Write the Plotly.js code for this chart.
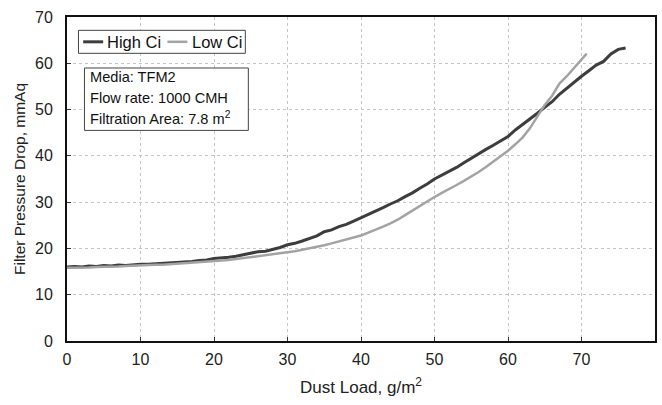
<!DOCTYPE html>
<html>
<head>
<meta charset="utf-8">
<script src="https://cdn.plot.ly/plotly-3.0.1.min.js"></script>
<style>html,body{margin:0;padding:0;background:#fff;}#chart{width:662px;height:405px;}</style>
</head>
<body>
<div id="chart"></div>
<script>
// Dust load (g/m2) and pressure drop (mmAq)
const highX = [0,1,2,3,4,5,6,7,8,9,10,11,12,13,14,15,16,17,18,19,20,21,22,23,24,25,26,27,28,29,30,31,32,33,34,35,36,37,38,39,40,41,42,43,44,45,46,47,48,49,50,51,52,53,54,55,56,57,58,59,60,61,62,63,64,65,66,67,68,69,70,71,72,73,74,75,76];
const highY = [16.0,16.1,16.0,16.2,16.1,16.3,16.2,16.4,16.3,16.5,16.6,16.6,16.7,16.8,16.8,17.0,17.1,17.2,17.4,17.5,17.8,17.9,18.1,18.3,18.6,19.0,19.3,19.4,19.8,20.2,20.8,21.1,21.6,22.1,22.7,23.6,24.0,24.7,25.2,25.9,26.6,27.3,28.0,28.8,29.6,30.3,31.2,32.0,33.0,33.9,35.0,35.8,36.7,37.5,38.5,39.5,40.4,41.4,42.3,43.3,44.2,45.6,46.8,47.8,49.2,50.5,51.7,53.3,54.6,56.1,57.2,58.4,59.6,60.4,62.0,63.0,63.3];
const lowX = [0,1,2,3,4,5,6,7,8,9,10,11,12,13,14,15,16,17,18,19,20,21,22,23,24,25,26,27,28,29,30,31,32,33,34,35,36,37,38,39,40,41,42,43,44,45,46,47,48,49,50,51,52,53,54,55,56,57,58,59,60,61,62,63,64,65,66,67,68,69,70,70.7];
const lowY = [15.8,15.8,15.9,15.9,16.0,16.0,16.1,16.1,16.2,16.3,16.3,16.4,16.5,16.5,16.6,16.7,16.8,16.9,17.0,17.1,17.2,17.4,17.5,17.7,17.9,18.1,18.3,18.5,18.7,18.9,19.1,19.4,19.7,20.0,20.3,20.7,21.1,21.5,21.9,22.3,22.8,23.4,24.0,24.7,25.4,26.2,27.2,28.2,29.2,30.2,31.1,32.0,32.8,33.7,34.6,35.5,36.5,37.6,38.7,39.9,41.1,42.5,44.0,46.0,48.5,51.0,53.0,55.6,57.2,59.0,60.6,62.1];
const seriesNames = ["High Ci", "Low Ci"];
const seriesColors = ['#3d3d3d', '#a3a3a3'];
const xTicks = [0,10,20,30,40,50,60,70,80];
const yTicks = [0,10,20,30,40,50,60,70];
const infoLines = ["Media: TFM2", "Flow rate: 1000 CMH", "Filtration Area: 7.8 m<sup>2</sup>"];

const font = "Arial, 'Liberation Sans', sans-serif";
const traces = [
  {x: highX, y: highY, name: seriesNames[0], mode: 'lines', line: {color: seriesColors[0], width: 3}},
  {x: lowX, y: lowY, name: seriesNames[1], mode: 'lines', line: {color: seriesColors[1], width: 2.5}}
];

// info box text
const lineY = [0.8138, 0.7505, 0.6873];
const annotations = infoLines.map((t, i) => ({
  text: t, xref: 'paper', yref: 'paper', x: 0.0365, y: lineY[i],
  xanchor: 'left', yanchor: 'middle', showarrow: false,
  font: {family: font, size: 14.6, color: '#111'}
}));
// hand-built legend (paper coords)
const legY = 0.9234;
const legLine = [[0.0275, 0.0615], [0.1708, 0.2048]];
const legText = [0.0654, 0.2099];
seriesNames.forEach((n, i) => annotations.push({
  text: n, xref: 'paper', yref: 'paper', x: legText[i], y: legY,
  xanchor: 'left', yanchor: 'middle', showarrow: false,
  font: {family: font, size: 16.5, color: '#111'}
}));

const shapes = [
  {type: 'rect', xref: 'paper', yref: 'paper', x0: 0.0297, x1: 0.3084, y0: 0.650, y1: 0.8426,
   line: {color: '#444', width: 1}, fillcolor: '#fff', layer: 'above'},
  {type: 'rect', xref: 'paper', yref: 'paper', x0: 0.0195, x1: 0.3033, y0: 0.8879, y1: 0.9589,
   line: {color: '#444', width: 1}, fillcolor: '#fff', layer: 'above'}
];
seriesNames.forEach((n, i) => shapes.push({
  type: 'line', xref: 'paper', yref: 'paper', x0: legLine[i][0], x1: legLine[i][1], y0: legY, y1: legY,
  line: {color: seriesColors[i], width: i === 0 ? 3 : 2.5}, layer: 'above'
}));

const layout = {
  width: 662, height: 405,
  margin: {l: 66.5, r: 7, t: 16.7, b: 64.4},
  paper_bgcolor: '#fff', plot_bgcolor: '#fff',
  font: {family: font, size: 15, color: '#222'},
  showlegend: false,
  xaxis: {
    range: [0, 80], tickvals: xTicks, ticktext: xTicks.map(String),
    showgrid: true, gridcolor: '#c4c4c4', griddash: 'dot', gridwidth: 1,
    showline: true, linecolor: '#111', linewidth: 2, mirror: true,
    ticks: 'inside', ticklen: 4, tickcolor: '#333', zeroline: false,
    ticklabelstandoff: 3,
    tickfont: {family: font, size: 16, color: '#222'},
    title: {text: 'Dust Load, g/m<sup>2</sup>', font: {family: font, size: 17, color: '#222'}, standoff: 14}
  },
  yaxis: {
    range: [0, 70], tickvals: yTicks, ticktext: yTicks.map(String),
    showgrid: true, gridcolor: '#c4c4c4', griddash: 'dot', gridwidth: 1,
    showline: true, linecolor: '#111', linewidth: 2, mirror: true,
    ticks: 'inside', ticklen: 4, tickcolor: '#333', zeroline: false,
    ticklabelstandoff: 9,
    tickfont: {family: font, size: 16, color: '#222'},
    title: {text: 'Filter Pressure Drop, mmAq', font: {family: font, size: 15.5, color: '#222'}, standoff: 6}
  },
  shapes: shapes,
  annotations: annotations
};

Plotly.newPlot('chart', traces, layout, {displayModeBar: false, staticPlot: true});
</script>
</body>
</html>
